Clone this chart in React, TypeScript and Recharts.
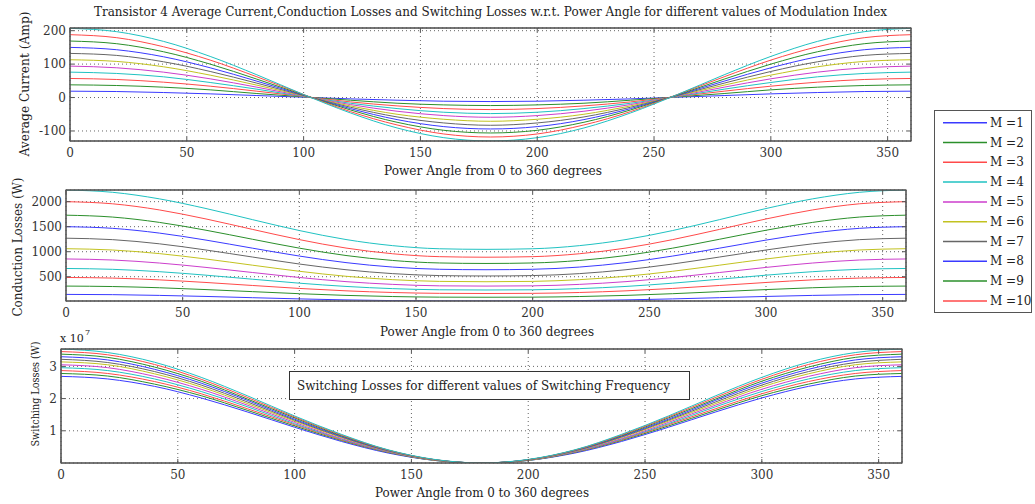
import React from 'react';
import { LineChart, Line, XAxis, YAxis, CartesianGrid } from 'recharts';

const FONT = 'DejaVu Serif';

const title =
  'Transistor 4 Average Current,Conduction Losses and Switching Losses w.r.t. Power Angle for different values of Modulation Index';
const xLabel = 'Power Angle from 0 to 360 degrees';

// power angle samples (degrees)
const angles = [0, 20, 40, 60, 80, 100, 120, 140, 160, 180, 200, 220, 240, 260, 280, 300, 320, 340, 360];
const angleTicks = [0, 50, 100, 150, 200, 250, 300, 350];

// the plot holds 11 curves, the legend only lists the first 10
const legendNames = ['M =1', 'M =2', 'M =3', 'M =4', 'M =5', 'M =6', 'M =7', 'M =8', 'M =9', 'M =10'];
const colors = [
  '#3a3aff', '#2b8f2b', '#ff4a4a', '#20c2c2', '#cc3ecc', '#c2c220',
  '#666666', '#3a3aff', '#2b8f2b', '#ff4a4a', '#20c2c2',
];

// Average current (Amp), one row per curve
const avgCurrent = [
  [19, 18, 15, 11, 6, 1, -4, -8, -11, -12, -11, -8, -4, 1, 6, 11, 15, 18, 19],
  [38, 36, 31, 23, 12, 2, -8, -17, -22, -24, -22, -17, -8, 2, 12, 23, 31, 36, 38],
  [57, 54, 46, 34, 19, 3, -13, -25, -33, -36, -33, -25, -13, 3, 19, 34, 46, 54, 57],
  [76, 72, 62, 45, 25, 3, -17, -33, -44, -48, -44, -33, -17, 3, 25, 45, 62, 72, 76],
  [94, 89, 76, 56, 31, 4, -21, -41, -54, -59, -54, -41, -21, 4, 31, 56, 76, 89, 94],
  [113, 108, 92, 67, 37, 5, -25, -50, -65, -71, -65, -50, -25, 5, 37, 67, 92, 108, 113],
  [132, 126, 107, 78, 43, 6, -29, -58, -76, -83, -76, -58, -29, 6, 43, 78, 107, 126, 132],
  [150, 143, 122, 89, 49, 7, -33, -66, -87, -94, -87, -66, -33, 7, 49, 89, 122, 143, 150],
  [169, 161, 137, 100, 55, 8, -37, -74, -98, -106, -98, -74, -37, 8, 55, 100, 137, 161, 169],
  [188, 179, 152, 112, 62, 9, -42, -82, -109, -118, -109, -82, -42, 9, 62, 112, 152, 179, 188],
  [207, 197, 168, 123, 68, 9, -46, -91, -120, -130, -120, -91, -46, 9, 68, 123, 168, 197, 207],
];
const currentTicks = [-100, 0, 100, 200];

// Conduction losses (W)
const conductionLoss = [
  [147, 142, 127, 106, 81, 57, 37, 23, 16, 15, 16, 23, 37, 57, 81, 106, 127, 142, 147],
  [313, 304, 280, 243, 202, 161, 127, 104, 92, 90, 92, 104, 127, 161, 202, 243, 280, 304, 313],
  [485, 473, 437, 385, 325, 266, 218, 185, 168, 165, 168, 185, 218, 266, 325, 385, 437, 473, 485],
  [665, 648, 601, 531, 450, 371, 306, 262, 239, 235, 239, 262, 306, 371, 450, 531, 601, 648, 665],
  [855, 834, 774, 686, 584, 485, 402, 347, 318, 313, 318, 347, 402, 485, 584, 686, 774, 834, 855],
  [1060, 1034, 962, 854, 730, 609, 509, 441, 407, 400, 407, 441, 509, 609, 730, 854, 962, 1034, 1060],
  [1270, 1241, 1158, 1034, 893, 754, 640, 562, 523, 515, 523, 562, 640, 754, 893, 1034, 1158, 1241, 1270],
  [1500, 1467, 1372, 1232, 1070, 913, 782, 693, 649, 640, 649, 693, 782, 913, 1070, 1232, 1372, 1467, 1500],
  [1730, 1692, 1586, 1429, 1248, 1071, 924, 825, 775, 765, 775, 825, 924, 1071, 1248, 1429, 1586, 1692, 1730],
  [2000, 1957, 1835, 1654, 1445, 1242, 1073, 959, 901, 890, 901, 959, 1073, 1242, 1445, 1654, 1835, 1957, 2000],
  [2233, 2187, 2056, 1863, 1640, 1423, 1243, 1121, 1059, 1047, 1059, 1121, 1243, 1423, 1640, 1863, 2056, 2187, 2233],
];
const conductionTicks = [500, 1000, 1500, 2000];

// Switching losses, in units of 10^7 W
const switchingLoss = [
  [2.69, 2.61, 2.38, 2.02, 1.58, 1.11, 0.67, 0.31, 0.08, 0, 0.08, 0.31, 0.67, 1.11, 1.58, 2.02, 2.38, 2.61, 2.69],
  [2.78, 2.7, 2.45, 2.09, 1.63, 1.15, 0.7, 0.33, 0.08, 0, 0.08, 0.33, 0.7, 1.15, 1.63, 2.09, 2.45, 2.7, 2.78],
  [2.87, 2.78, 2.53, 2.15, 1.68, 1.19, 0.72, 0.34, 0.09, 0, 0.09, 0.34, 0.72, 1.19, 1.68, 2.15, 2.53, 2.78, 2.87],
  [2.96, 2.87, 2.61, 2.22, 1.74, 1.22, 0.74, 0.35, 0.09, 0, 0.09, 0.35, 0.74, 1.22, 1.74, 2.22, 2.61, 2.87, 2.96],
  [3.05, 2.96, 2.69, 2.29, 1.79, 1.26, 0.76, 0.36, 0.09, 0, 0.09, 0.36, 0.76, 1.26, 1.79, 2.29, 2.69, 2.96, 3.05],
  [3.14, 3.05, 2.77, 2.36, 1.84, 1.3, 0.79, 0.37, 0.09, 0, 0.09, 0.37, 0.79, 1.3, 1.84, 2.36, 2.77, 3.05, 3.14],
  [3.22, 3.12, 2.84, 2.42, 1.89, 1.33, 0.81, 0.38, 0.1, 0, 0.1, 0.38, 0.81, 1.33, 1.89, 2.42, 2.84, 3.12, 3.22],
  [3.3, 3.2, 2.91, 2.48, 1.94, 1.36, 0.83, 0.39, 0.1, 0, 0.1, 0.39, 0.83, 1.36, 1.94, 2.48, 2.91, 3.2, 3.3],
  [3.38, 3.28, 2.98, 2.54, 1.98, 1.4, 0.85, 0.4, 0.1, 0, 0.1, 0.4, 0.85, 1.4, 1.98, 2.54, 2.98, 3.28, 3.38],
  [3.46, 3.36, 3.06, 2.6, 2.03, 1.43, 0.87, 0.4, 0.1, 0, 0.1, 0.4, 0.87, 1.43, 2.03, 2.6, 3.06, 3.36, 3.46],
  [3.54, 3.43, 3.13, 2.66, 2.08, 1.46, 0.89, 0.41, 0.11, 0, 0.11, 0.41, 0.89, 1.46, 2.08, 2.66, 3.13, 3.43, 3.54],
];
const switchingTicks = [1, 2, 3];

const toRows = (series: number[][]) =>
  angles.map((a, i) => {
    const row: Record<string, number> = { angle: a };
    series.forEach((s, k) => {
      row['m' + (k + 1)] = s[i];
    });
    return row;
  });

const tickStyle = { fill: '#333', fontSize: 12, fontFamily: FONT };

type Box = { left: number; top: number; right: number; bottom: number };

const boxes: Box[] = [
  { left: 70, top: 28, right: 911, bottom: 141 },
  { left: 66, top: 190, right: 906, bottom: 301 },
  { left: 61, top: 349, right: 902, bottom: 463 },
];

function Panel({ series, box, domain, yTicks }: { series: number[][]; box: Box; domain: number[]; yTicks: number[] }) {
  const padTop = 3;
  const padRight = 15;
  const axisH = 26;
  const width = box.right + padRight + 1;
  const height = padTop + 1 + (box.bottom - box.top) + axisH;
  return (
    <div style={{ position: 'absolute', left: 0, top: box.top - padTop - 1 }}>
      <LineChart width={width} height={height} data={toRows(series)} margin={{ top: padTop, right: padRight, bottom: 0, left: 0 }}>
        <CartesianGrid stroke="#666" strokeDasharray="1 3" />
        <XAxis
          dataKey="angle" type="number" domain={[0, 360]} ticks={angleTicks} interval={0}
          height={axisH} tickSize={-4} tickMargin={11} tick={tickStyle} stroke="#555" allowDataOverflow
        />
        <XAxis
          xAxisId="top" orientation="top" dataKey="angle" type="number" domain={[0, 360]} ticks={angleTicks}
          interval={0} height={1} tickSize={-4} tickFormatter={() => ''} stroke="#555" allowDataOverflow
        />
        <YAxis
          type="number" domain={domain} ticks={yTicks} interval={0} width={box.left}
          tickSize={-4} tickMargin={8} tick={tickStyle} stroke="#555" allowDataOverflow
        />
        <YAxis
          yAxisId="right" orientation="right" type="number" domain={domain} ticks={yTicks} interval={0}
          width={1} tickSize={-4} tickFormatter={() => ''} stroke="#555" allowDataOverflow
        />
        {series.map((_, k) => (
          <Line
            key={k}
            type="monotone"
            dataKey={'m' + (k + 1)}
            stroke={colors[k]}
            strokeWidth={1}
            dot={false}
            isAnimationActive={false}
          />
        ))}
      </LineChart>
    </div>
  );
}

export default function App() {
  return (
    <div style={{ position: 'absolute', left: 0, top: 0, width: 1035, height: 504, background: '#fff' }}>
      <Panel series={avgCurrent} box={boxes[0]} domain={[-130, 208]} yTicks={currentTicks} />
      <Panel series={conductionLoss} box={boxes[1]} domain={[15, 2233]} yTicks={conductionTicks} />
      <Panel series={switchingLoss} box={boxes[2]} domain={[0, 3.54]} yTicks={switchingTicks} />

      <svg width={1035} height={504} style={{ position: 'absolute', left: 0, top: 0 }} fontFamily={FONT} fill="#222">
        {boxes.map((b, i) => (
          <rect key={i} x={b.left} y={b.top} width={b.right - b.left} height={b.bottom - b.top} fill="none" stroke="#555" strokeWidth={1.2} />
        ))}

        <text x={490.5} y={12} fontSize={12} textAnchor="middle" dominantBaseline="central" textLength={793} lengthAdjust="spacingAndGlyphs">
          {title}
        </text>

        <text x={493} y={171} fontSize={12} textAnchor="middle" dominantBaseline="central" textLength={218} lengthAdjust="spacingAndGlyphs">{xLabel}</text>
        <text x={487} y={332} fontSize={12} textAnchor="middle" dominantBaseline="central" textLength={214} lengthAdjust="spacingAndGlyphs">{xLabel}</text>
        <text x={482} y={493} fontSize={12} textAnchor="middle" dominantBaseline="central" textLength={214} lengthAdjust="spacingAndGlyphs">{xLabel}</text>

        <text transform="translate(25,84) rotate(-90)" fontSize={12} textAnchor="middle" dominantBaseline="central" textLength={145} lengthAdjust="spacingAndGlyphs">
          Average Current (Amp)
        </text>
        <text transform="translate(18,247) rotate(-90)" fontSize={12} textAnchor="middle" dominantBaseline="central" textLength={139} lengthAdjust="spacingAndGlyphs">
          Conduction Losses (W)
        </text>
        <text transform="translate(35,394) rotate(-90)" fontSize={11} textAnchor="middle" dominantBaseline="central" textLength={105} lengthAdjust="spacingAndGlyphs">
          Switching Losses (W)
        </text>

        <text x={60} y={342} fontSize={11}>x 10</text>
        <text x={85} y={335} fontSize={8}>7</text>

        <rect x={289.5} y={371.5} width={400} height={28} fill="#fff" stroke="#333" />
        <text x={297} y={386} fontSize={12} dominantBaseline="central" textLength={373} lengthAdjust="spacingAndGlyphs">
          Switching Losses for different values of Switching Frequency
        </text>

        <rect x={934.5} y={110.5} width={97} height={202} fill="#fff" stroke="#555" />
        {legendNames.map((name, i) => {
          const y = 122.7 + i * 19.8;
          return (
            <g key={name}>
              <line x1={943} x2={987} y1={y} y2={y} stroke={colors[i]} strokeWidth={1.5} />
              <text x={990} y={y} fontSize={12} dominantBaseline="central">{name}</text>
            </g>
          );
        })}
      </svg>
    </div>
  );
}
